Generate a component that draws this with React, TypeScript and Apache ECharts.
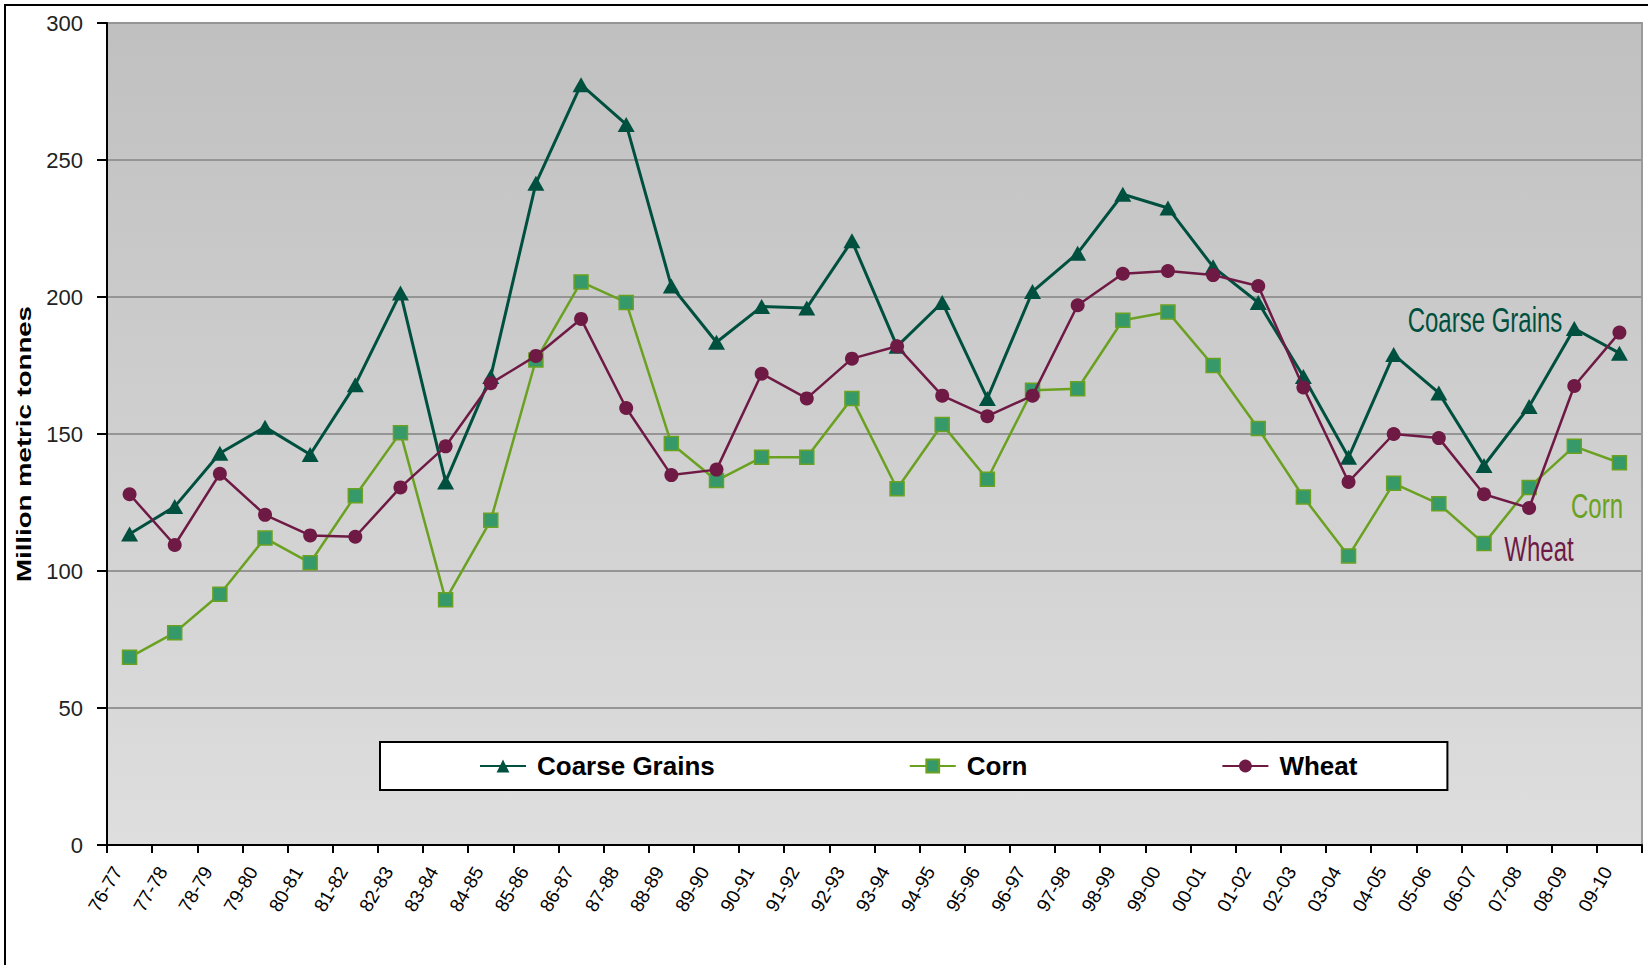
import React, { useEffect, useRef } from "react";
import * as echarts from "echarts";

const categories = [
  "76-77", "77-78", "78-79", "79-80", "80-81", "81-82", "82-83", "83-84", "84-85", "85-86",
  "86-87", "87-88", "88-89", "89-90", "90-91", "91-92", "92-93", "93-94", "94-95", "95-96",
  "96-97", "97-98", "98-99", "99-00", "00-01", "01-02", "02-03", "03-04", "04-05", "05-06",
  "06-07", "07-08", "08-09", "09-10",
];

const coarseGrains = [
  113.5, 123.5, 143, 152.5, 142.5, 168, 201.5, 132.5, 171, 241.5,
  277.5, 263, 204, 183.5, 196.5, 196, 220.5, 182, 198, 163,
  202, 216, 237.5, 232.5, 211, 198, 171, 141.5, 179, 165,
  138.5, 160, 188.5, 179.5,
];

const corn = [
  68.5, 77.5, 91.5, 112, 103, 127.5, 150.5, 89.5, 118.5, 177,
  205.5, 198, 146.5, 133, 141.5, 141.5, 163, 130, 153.5, 133.5,
  166, 166.5, 191.5, 194.5, 175, 152, 127, 105.5, 132, 124.5,
  110, 130.5, 145.5, 139.5,
];

const wheat = [
  128, 109.5, 135.5, 120.5, 113, 112.5, 130.5, 145.5, 168.5, 178.5,
  192, 159.5, 135, 137, 172, 163, 177.5, 182, 164, 156.5,
  164, 197, 208.5, 209.5, 208, 204, 167, 132.5, 150, 148.5,
  128, 123, 167.5, 187,
];

const seriesNames = ["Coarse Grains", "Corn", "Wheat"];
const yAxisTitle = "Million metric tonnes";

const TEAL = "#00503f";
const GREEN_LINE = "#6aa121";
const GREEN_FILL = "#35996a";
const MAROON = "#6e1a45";
const FONT = "'Liberation Sans', Arial, sans-serif";

export default function App() {
  const ref = useRef<HTMLDivElement | null>(null);

  useEffect(() => {
    if (!ref.current) return;
    const chart = echarts.init(ref.current, undefined, { renderer: "svg" });
    chart.setOption({
      animation: false,
      backgroundColor: "#ffffff",
      textStyle: { fontFamily: FONT },
      grid: {
        left: 107,
        right: 6,
        top: 23,
        bottom: 120,
        show: true,
        borderColor: "#9a9a9a",
        borderWidth: 2,
        backgroundColor: new echarts.graphic.LinearGradient(0, 0, 0, 1, [
          { offset: 0, color: "#c0c0c0" },
          { offset: 1, color: "#dedede" },
        ]),
      },
      legend: {
        data: seriesNames,
        left: 380,
        top: 742,
        orient: "horizontal",
        padding: [11, 90, 11, 99],
        itemGap: 194,
        itemWidth: 46,
        itemHeight: 16,
        backgroundColor: "#ffffff",
        borderColor: "#000000",
        borderWidth: 2,
        borderRadius: 0,
        textStyle: {
          fontFamily: FONT,
          fontSize: 26,
          fontWeight: "bold",
          color: "#000000",
          padding: [0, 0, 0, 6],
        },
      },
      xAxis: {
        type: "category",
        data: categories,
        boundaryGap: true,
        axisLine: { lineStyle: { color: "#000000", width: 2 } },
        axisTick: { show: true, length: 8, lineStyle: { color: "#000000", width: 2 } },
        axisLabel: {
          interval: 0,
          rotate: 60,
          margin: 30,
          fontSize: 19,
          color: "#000000",
          fontFamily: FONT,
          verticalAlign: "bottom",
          lineHeight: 28,
        },
        splitLine: { show: false },
      },
      yAxis: {
        type: "value",
        min: 0,
        max: 300,
        interval: 50,
        axisLine: { show: true, lineStyle: { color: "#000000", width: 2 } },
        axisTick: { show: true, length: 10, lineStyle: { color: "#000000", width: 2 } },
        axisLabel: { fontSize: 22, color: "#222222", margin: 24, fontFamily: FONT },
        splitLine: { show: true, lineStyle: { color: "#959595", width: 2 } },
      },
      series: [
        {
          name: seriesNames[0],
          type: "line",
          data: coarseGrains,
          symbol: "triangle",
          symbolSize: [17, 15],
          lineStyle: { color: TEAL, width: 3 },
          itemStyle: { color: TEAL },
          z: 3,
        },
        {
          name: seriesNames[1],
          type: "line",
          data: corn,
          symbol: "rect",
          symbolSize: 14,
          lineStyle: { color: GREEN_LINE, width: 2.5 },
          itemStyle: { color: GREEN_FILL, borderColor: GREEN_LINE, borderWidth: 1.5 },
          z: 2,
        },
        {
          name: seriesNames[2],
          type: "line",
          data: wheat,
          symbol: "circle",
          symbolSize: 14,
          lineStyle: { color: MAROON, width: 2.5 },
          itemStyle: { color: MAROON },
          z: 4,
        },
      ],
      graphic: [
        {
          type: "line",
          shape: { x1: 4, y1: 5, x2: 1648, y2: 5 },
          style: { stroke: "#000000", lineWidth: 2 },
        },
        {
          type: "line",
          shape: { x1: 5, y1: 4, x2: 5, y2: 965 },
          style: { stroke: "#000000", lineWidth: 2 },
        },
        {
          type: "text",
          x: 24,
          y: 444,
          rotation: Math.PI / 2,
          scaleX: 1.38,
          style: {
            text: yAxisTitle,
            fontFamily: FONT,
            fontSize: 20,
            fontWeight: "bold",
            fill: "#000000",
            align: "center",
            verticalAlign: "middle",
          },
        },
        {
          type: "text",
          x: 1485,
          y: 319,
          scaleY: 1.5,
          style: {
            text: seriesNames[0],
            fontFamily: FONT,
            fontSize: 24,
            fill: TEAL,
            align: "center",
            verticalAlign: "middle",
          },
        },
        {
          type: "text",
          x: 1597,
          y: 505,
          scaleY: 1.5,
          style: {
            text: seriesNames[1],
            fontFamily: FONT,
            fontSize: 24,
            fill: GREEN_LINE,
            align: "center",
            verticalAlign: "middle",
          },
        },
        {
          type: "text",
          x: 1539,
          y: 548,
          scaleY: 1.5,
          style: {
            text: seriesNames[2],
            fontFamily: FONT,
            fontSize: 24,
            fill: MAROON,
            align: "center",
            verticalAlign: "middle",
          },
        },
      ],
    });
    return () => {
      chart.dispose();
    };
  }, []);

  return (
    <div
      ref={ref}
      style={{ position: "absolute", left: 0, top: 0, width: 1648, height: 965 }}
    />
  );
}
